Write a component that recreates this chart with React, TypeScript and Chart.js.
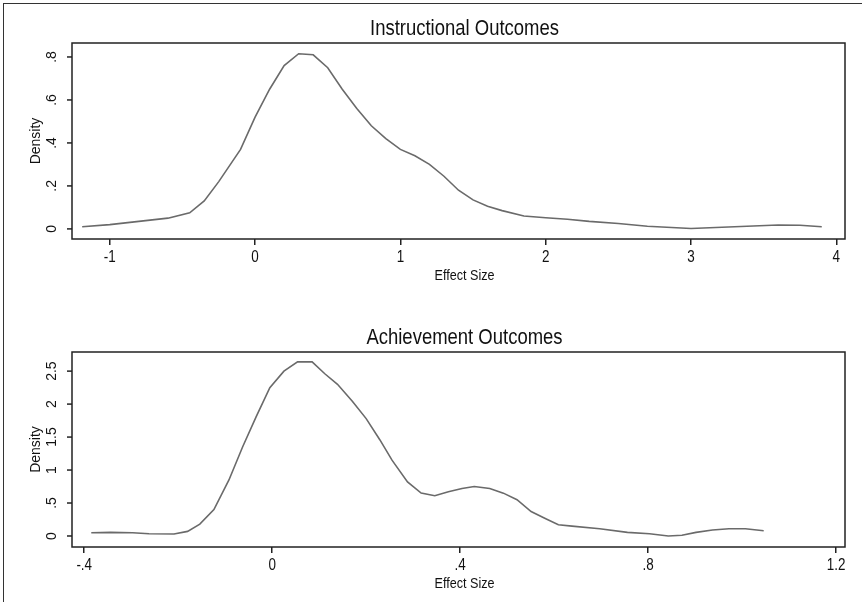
import { useEffect, useRef } from 'react';
import { Chart, registerables } from 'chart.js';

Chart.register(...registerables);

// Instructional outcomes density
const instrX = [-1.19, -1.0, -0.8, -0.6, -0.45, -0.35, -0.25, -0.1, 0, 0.1, 0.2, 0.3, 0.4, 0.5, 0.6, 0.7, 0.8, 0.9, 1.0, 1.1, 1.2, 1.3, 1.4, 1.5, 1.6, 1.7, 1.85, 2.0, 2.15, 2.3, 2.5, 2.7, 3.0, 3.3, 3.6, 3.75, 3.9];
const instrY = [0.01, 0.02, 0.035, 0.05, 0.075, 0.13, 0.22, 0.37, 0.52, 0.65, 0.76, 0.815, 0.81, 0.75, 0.65, 0.56, 0.48, 0.42, 0.37, 0.34, 0.3, 0.245, 0.18, 0.135, 0.105, 0.085, 0.06, 0.052, 0.045, 0.035, 0.025, 0.012, 0.002, 0.01, 0.018, 0.017, 0.01];
const instrXTicks = [-1, 0, 1, 2, 3, 4];
const instrXLabels = ['-1', '0', '1', '2', '3', '4'];
const instrYTicks = [0, 0.2, 0.4, 0.6, 0.8];
const instrYLabels = ['0', '.2', '.4', '.6', '.8'];

// Achievement outcomes density
const achX = [-0.385, -0.344, -0.297, -0.262, -0.209, -0.18, -0.154, -0.124, -0.092, -0.063, -0.034, -0.005, 0.025, 0.054, 0.085, 0.112, 0.139, 0.171, 0.2, 0.229, 0.255, 0.288, 0.317, 0.346, 0.375, 0.404, 0.43, 0.463, 0.492, 0.521, 0.551, 0.58, 0.609, 0.638, 0.697, 0.756, 0.803, 0.843, 0.872, 0.902, 0.937, 0.972, 1.007, 1.046];
const achY = [0.05, 0.055, 0.05, 0.035, 0.03, 0.07, 0.18, 0.4, 0.85, 1.35, 1.81, 2.25, 2.5, 2.64, 2.64, 2.46, 2.3, 2.04, 1.78, 1.46, 1.15, 0.82, 0.65, 0.61, 0.67, 0.72, 0.75, 0.72, 0.65, 0.55, 0.37, 0.27, 0.17, 0.15, 0.11, 0.055, 0.035, 0.0, 0.01, 0.055, 0.09, 0.11, 0.11, 0.08];
const achXTicks = [-0.4, 0, 0.4, 0.8, 1.2];
const achXLabels = ['-.4', '0', '.4', '.8', '1.2'];
const achYTicks = [0, 0.5, 1, 1.5, 2, 2.5];
const achYLabels = ['0', '.5', '1', '1.5', '2', '2.5'];

const SANS = '"Liberation Sans", Arial, sans-serif';

interface PanelProps {
  title: string;
  xs: number[];
  ys: number[];
  xTicks: number[];
  xLabels: string[];
  yTicks: number[];
  yLabels: string[];
  xMin: number;
  xMax: number;
  yMin: number;
  yMax: number;
  top: number;
  bottom: number;
  height: number;
}

// condensed text: squeeze horizontally to mimic a narrow face
function narrowText(ctx: CanvasRenderingContext2D, text: string, x: number, y: number, k = 0.84) {
  ctx.save();
  ctx.translate(x, y);
  ctx.scale(k, 1);
  ctx.fillText(text, 0, 0);
  ctx.restore();
}

function Panel(p: PanelProps) {
  const canvasRef = useRef<HTMLCanvasElement>(null);

  useEffect(() => {
    if (!canvasRef.current) return;
    const decor = {
      id: 'decor',
      afterDraw(chart: Chart) {
        const { ctx, chartArea: a } = chart;
        const ys = chart.scales.y;
        const xs = chart.scales.x;
        ctx.save();
        ctx.strokeStyle = '#222';
        ctx.lineWidth = 1.5;
        ctx.strokeRect(a.left, a.top, a.right - a.left, a.bottom - a.top);
        ctx.fillStyle = '#111';
        ctx.textAlign = 'center';
        ctx.textBaseline = 'middle';
        ctx.font = `22px ${SANS}`;
        narrowText(ctx, p.title, (a.left + a.right) / 2 + 6, a.top - 14);
        ctx.font = `14px ${SANS}`;
        p.yTicks.forEach((v, i) => {
          const y = ys.getPixelForValue(v);
          ctx.save();
          ctx.translate(52, y);
          ctx.rotate(-Math.PI / 2);
          ctx.fillText(p.yLabels[i], 0, 0);
          ctx.restore();
          ctx.beginPath();
          ctx.moveTo(a.left, y);
          ctx.lineTo(a.left - 5, y);
          ctx.stroke();
        });
        ctx.save();
        ctx.translate(36, (a.top + a.bottom) / 2);
        ctx.rotate(-Math.PI / 2);
        ctx.fillText('Density', 0, 0);
        ctx.restore();
        ctx.font = `16px ${SANS}`;
        p.xTicks.forEach((v, i) => {
          narrowText(ctx, p.xLabels[i], xs.getPixelForValue(v), a.bottom + 19);
        });
        ctx.font = `15px ${SANS}`;
        narrowText(ctx, 'Effect Size', (a.left + a.right) / 2 + 6, a.bottom + 37);
        ctx.restore();
      },
    };

    const chart = new Chart(canvasRef.current, {
      type: 'line',
      data: {
        datasets: [
          {
            data: p.xs.map((x, i) => ({ x, y: p.ys[i] })),
            borderColor: '#6a6a6a',
            borderWidth: 1.6,
            pointRadius: 0,
            tension: 0,
            fill: false,
          },
        ],
      },
      options: {
        animation: false,
        responsive: false,
        layout: { padding: { left: 0, right: 17, top: p.top, bottom: 0 } },
        plugins: { legend: { display: false }, tooltip: { enabled: false } },
        scales: {
          x: {
            type: 'linear',
            min: p.xMin,
            max: p.xMax,
            afterBuildTicks: (s: any) => {
              s.ticks = p.xTicks.map((v) => ({ value: v }));
            },
            afterFit: (s: any) => {
              s.height = p.height - p.bottom;
            },
            grid: { drawOnChartArea: false, tickLength: 6, color: '#222', lineWidth: 1.5 },
            border: { display: false },
            ticks: { display: false },
          },
          y: {
            type: 'linear',
            min: p.yMin,
            max: p.yMax,
            afterFit: (s: any) => {
              s.width = 72;
            },
            grid: { display: false },
            border: { display: false },
            ticks: { display: false },
          },
        },
      },
      plugins: [decor],
    });
    return () => chart.destroy();
  }, []);

  return <canvas ref={canvasRef} width={862} height={p.height} style={{ display: 'block' }} />;
}

export default function App() {
  return (
    <div
      style={{
        position: 'fixed',
        left: 0,
        top: 0,
        width: 862,
        height: 602,
        background: '#fff',
        overflow: 'hidden',
      }}
    >
      <div style={{ position: 'absolute', left: 3, top: 3, width: 1, height: 599, background: '#333' }} />
      <div style={{ position: 'absolute', left: 3, top: 3, width: 859, height: 1, background: '#333' }} />
      <div style={{ position: 'absolute', left: 0, top: 0 }}>
        <Panel
          title="Instructional Outcomes"
          xs={instrX}
          ys={instrY}
          xTicks={instrXTicks}
          xLabels={instrXLabels}
          yTicks={instrYTicks}
          yLabels={instrYLabels}
          xMin={-1.26}
          xMax={4.06}
          yMin={-0.047}
          yMax={0.865}
          top={43}
          bottom={239}
          height={300}
        />
      </div>
      <div style={{ position: 'absolute', left: 0, top: 300 }}>
        <Panel
          title="Achievement Outcomes"
          xs={achX}
          ys={achY}
          xTicks={achXTicks}
          xLabels={achXLabels}
          yTicks={achYTicks}
          yLabels={achYLabels}
          xMin={-0.426}
          xMax={1.219}
          yMin={-0.167}
          yMax={2.79}
          top={52}
          bottom={247}
          height={302}
        />
      </div>
    </div>
  );
}
